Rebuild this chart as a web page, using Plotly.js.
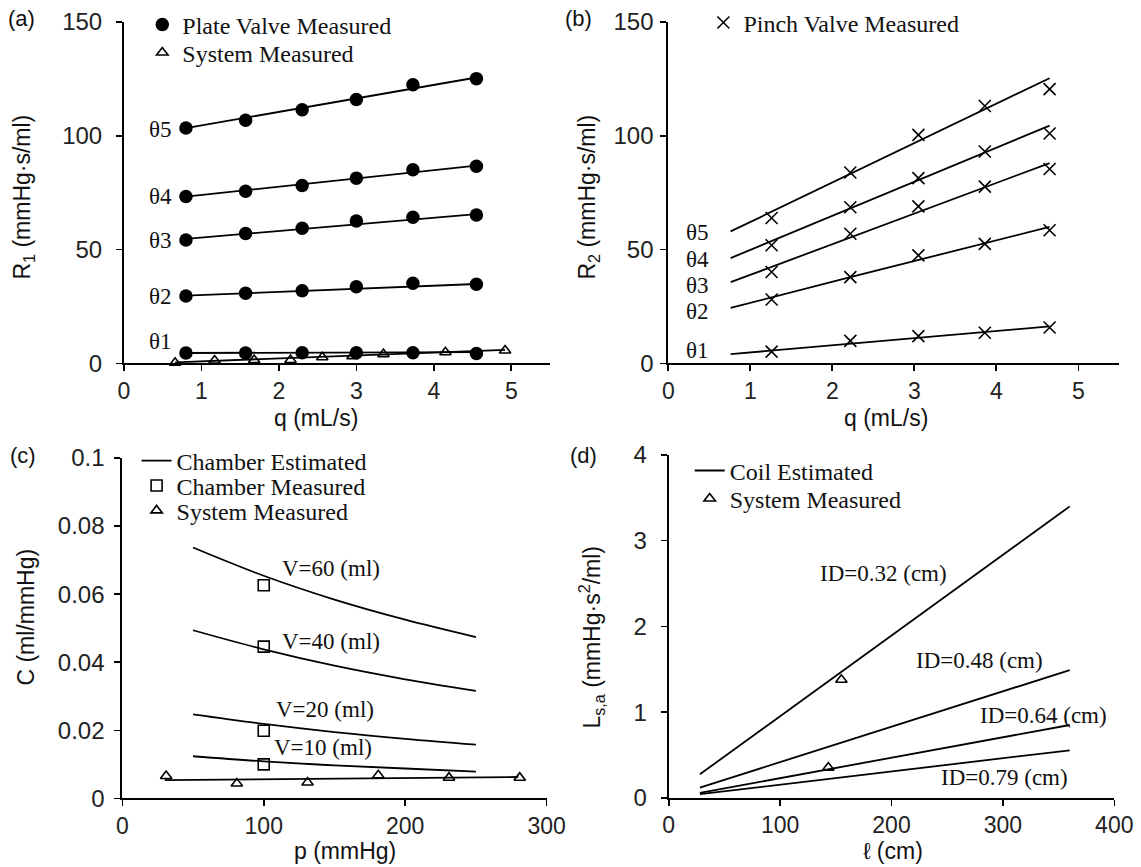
<!DOCTYPE html>
<html>
<head>
<meta charset="utf-8">
<script src="https://cdn.plot.ly/plotly-3.0.1.min.js"></script>
<style>html,body{margin:0;padding:0;background:#fff;}#chart{width:1141px;height:867px;}</style>
</head>
<body>
<div id="chart"></div>
<script>
// ---------- Panel (a): plate valve R1 vs q ----------
const qA = [0.8, 1.57, 2.3, 3.0, 3.73, 4.55];
const r1Theta1 = [4.6, 4.6, 4.7, 4.7, 4.7, 4.4];
const r1Theta2 = [29.6, 30.8, 31.9, 33.7, 35.2, 34.8];
const r1Theta3 = [54.2, 57.1, 59.4, 62.6, 64.2, 65.2];
const r1Theta4 = [73.3, 75.6, 78.2, 81.4, 85.1, 86.6];
const r1Theta5 = [103.4, 106.8, 111.4, 115.9, 122.4, 125.1];
const qAFit = [0.8, 4.55];
const r1Fit1 = [4.6, 5.0];
const r1Fit2 = [29.8, 34.9];
const r1Fit3 = [54.7, 65.6];
const r1Fit4 = [73.3, 86.9];
const r1Fit5 = [103.4, 125.6];
const qSysA = [0.66, 1.17, 1.68, 2.15, 2.56, 2.95, 3.35, 4.15, 4.92];
const r1Sys = [0.3, 1.3, 1.5, 1.5, 2.7, 3.2, 4.1, 4.9, 5.7];
const qSysFit = [0.66, 4.92];
const r1SysFit = [0.5, 6.0];
const thetaLabels = ['θ1', 'θ2', 'θ3', 'θ4', 'θ5'];
const thetaLabelYA = [9.6, 29.4, 54.1, 73.3, 102.8];

// ---------- Panel (b): pinch valve R2 vs q ----------
const qB = [1.26, 2.22, 3.05, 3.86, 4.65];
const r2Theta1 = [5.2, 9.9, 12.0, 13.5, 15.8];
const r2Theta2 = [28.1, 37.9, 47.5, 52.5, 58.5];
const r2Theta3 = [40.2, 57.0, 69.0, 77.7, 85.4];
const r2Theta4 = [51.9, 68.6, 81.4, 93.1, 101.0];
const r2Theta5 = [63.9, 83.9, 100.4, 113.1, 120.5];
const qBFit = [0.76, 4.65];
const qBFit2 = [0.76, 2.22, 4.65];
const r2Fit1 = [4.1, 16.3];
const r2Fit2 = [24.4, 37.9, 60.0];
const r2Fit3 = [35.7, 88.0];
const r2Fit4 = [46.3, 104.5];
const r2Fit5 = [58.0, 125.3];
const thetaLabelYB = [5.5, 23.0, 34.4, 45.8, 57.6];

// ---------- Panel (c): compliance C vs p ----------
const pEst = [50, 100, 150, 200, 250];
const cV60 = [0.0737, 0.0654, 0.0584, 0.0525, 0.0474];
const cV40 = [0.0494, 0.0438, 0.0390, 0.0350, 0.0316];
const cV20 = [0.0247, 0.0219, 0.0195, 0.0175, 0.0158];
const cV10 = [0.0124, 0.0109, 0.0097, 0.0088, 0.0079];
const pChamber = [100, 100, 100, 100];
const cChamber = [0.0626, 0.0446, 0.0199, 0.0100];
const pSys = [31, 81, 131, 181, 231, 281];
const cSys = [0.0066, 0.0044, 0.0047, 0.0068, 0.0061, 0.0061];
const pSysFit = [30, 280];
const cSysFit = [0.0054, 0.0063];
const volLabels = ['V=60 (ml)', 'V=40 (ml)', 'V=20 (ml)', 'V=10 (ml)'];
const volLabelX = [147.7, 147.7, 143.4, 142.1];
const volLabelY = [0.0674, 0.0462, 0.0260, 0.0149];

// ---------- Panel (d): inertance L vs length ----------
const lenEst = [28, 360];
const lID032 = [0.275, 3.40];
const lID048 = [0.12, 1.49];
const lID064 = [0.058, 0.85];
const lID079 = [0.043, 0.555];
const lenSys = [155, 143.3];
const lSys = [1.377, 0.353];
const idLabels = ['ID=0.32 (cm)', 'ID=0.48 (cm)', 'ID=0.64 (cm)', 'ID=0.79 (cm)'];
const idLabelX = [193.2, 278.8, 336.5, 301.6];
const idLabelY = [2.62, 1.60, 0.96, 0.233];

// ---------- styling ----------
const W = 1141, H = 867;
const SERIF = 'Liberation Serif, Times New Roman, serif';
const SANS = 'Liberation Sans, Arial, sans-serif';
const BLACK = '#000';
const LW = 1.8;
const px = v => v / W;
const py = v => 1 - v / H;

function fitLine(x, y, xa, ya, extra) {
  return Object.assign({x: x, y: y, xaxis: xa, yaxis: ya, type: 'scatter', mode: 'lines',
    line: {color: BLACK, width: LW}, showlegend: false, hoverinfo: 'skip'}, extra || {});
}
function markers(x, y, xa, ya, sym, size, extra) {
  const filled = sym.indexOf('open') < 0;
  return Object.assign({x: x, y: y, xaxis: xa, yaxis: ya, type: 'scatter', mode: 'markers', cliponaxis: false,
    marker: {symbol: sym, size: size, color: BLACK, line: {color: BLACK, width: filled ? 0 : 1.6}},
    showlegend: false}, extra || {});
}

const traces = [];
// (a)
[r1Fit1, r1Fit2, r1Fit3, r1Fit4, r1Fit5].forEach(f => traces.push(fitLine(qAFit, f, 'x', 'y')));
traces.push(fitLine(qSysFit, r1SysFit, 'x', 'y'));
[r1Theta1, r1Theta2, r1Theta3, r1Theta4, r1Theta5].forEach((v, i) =>
  traces.push(markers(qA, v, 'x', 'y', 'circle', 13.5,
    {name: 'Plate Valve Measured', legendgroup: 'plate', showlegend: i === 0, legend: 'legend'})));
traces.push(markers(qSysA, r1Sys, 'x', 'y', 'triangle-up-open', 10,
  {name: 'System Measured', showlegend: true, legend: 'legend2'}));
// (b)
traces.push(fitLine(qBFit, r2Fit1, 'x2', 'y2'));
traces.push(fitLine(qBFit2, r2Fit2, 'x2', 'y2'));
[r2Fit3, r2Fit4, r2Fit5].forEach(f => traces.push(fitLine(qBFit, f, 'x2', 'y2')));
[r2Theta1, r2Theta2, r2Theta3, r2Theta4, r2Theta5].forEach((v, i) =>
  traces.push(markers(qB, v, 'x2', 'y2', 'x-thin-open', 12,
    {name: 'Pinch Valve Measured', legendgroup: 'pinch', showlegend: i === 0, legend: 'legend3'})));
// (c)
[cV60, cV40, cV20, cV10].forEach((v, i) =>
  traces.push(fitLine(pEst, v, 'x3', 'y3',
    {line: {color: BLACK, width: LW, shape: 'spline'}, name: 'Chamber Estimated', legendgroup: 'chest',
     showlegend: i === 0, legend: 'legend4'})));
traces.push(fitLine(pSysFit, cSysFit, 'x3', 'y3'));
traces.push(markers(pChamber, cChamber, 'x3', 'y3', 'square-open', 11,
  {name: 'Chamber Measured', showlegend: true, legend: 'legend5'}));
traces.push(markers(pSys, cSys, 'x3', 'y3', 'triangle-up-open', 10,
  {name: 'System Measured', showlegend: true, legend: 'legend6'}));
// (d)
[lID032, lID048, lID064, lID079].forEach((v, i) =>
  traces.push(fitLine(lenEst, v, 'x4', 'y4',
    {name: 'Coil Estimated', legendgroup: 'coil', showlegend: i === 0, legend: 'legend7'})));
traces.push(markers(lenSys, lSys, 'x4', 'y4', 'triangle-up-open', 10,
  {name: 'System Measured', showlegend: true, legend: 'legend8'}));

function axis(domain, range, dtick, anchor, standoff, size, extra) {
  return Object.assign({domain: domain, range: range, dtick: dtick, tick0: 0, anchor: anchor,
    showgrid: false, zeroline: false, showline: true, linecolor: BLACK, linewidth: 2,
    ticks: 'outside', ticklen: 6, tickwidth: 1.6, tickcolor: BLACK, ticklabelstandoff: standoff,
    tickfont: {family: SANS, size: size, color: '#222'}, fixedrange: true}, extra || {});
}

const yTop = [py(362.3), py(20)];
const yBot = [py(798.3), py(457)];
const yBotD = [py(797.7), py(454)];

function leg(xPx, yPx) {
  return {x: px(xPx), y: py(yPx), xanchor: 'left', yanchor: 'middle', bgcolor: 'rgba(0,0,0,0)',
    borderwidth: 0, font: {family: SERIF, size: 24, color: '#111'}};
}

const annotations = [];
function addText(text, x, y, xref, yref, size, family, extra) {
  annotations.push(Object.assign({text: text, x: x, y: y, xref: xref, yref: yref, showarrow: false,
    xanchor: 'center', yanchor: 'middle', font: {family: family, size: size, color: '#111'}}, extra || {}));
}
thetaLabels.forEach((t, i) => addText(t, 0.47, thetaLabelYA[i], 'x', 'y', 23, SERIF));
thetaLabels.forEach((t, i) => addText(t, 0.35, thetaLabelYB[i], 'x2', 'y2', 23, SERIF));
volLabels.forEach((t, i) => addText(t, volLabelX[i], volLabelY[i], 'x3', 'y3', 23, SERIF));
idLabels.forEach((t, i) => addText(t, idLabelX[i], idLabelY[i], 'x4', 'y4', 23, SERIF));
// panel tags
addText('(a)', px(21.5), py(17), 'paper', 'paper', 22, SANS);
addText('(b)', px(578), py(17), 'paper', 'paper', 22, SANS);
addText('(c)', px(23), py(455), 'paper', 'paper', 22, SANS);
addText('(d)', px(583), py(455), 'paper', 'paper', 22, SANS);
// axis titles
addText('q (mL/s)', px(316), py(417), 'paper', 'paper', 23, SANS);
addText('q (mL/s)', px(886), py(417), 'paper', 'paper', 23, SANS);
addText('p (mmHg)', px(345), py(851), 'paper', 'paper', 23, SANS);
addText('ℓ (cm)', px(893), py(851), 'paper', 'paper', 23, SANS);
addText('R<sub>1</sub> (mmHg·s/ml)', px(24), py(196), 'paper', 'paper', 23, SANS, {textangle: -90});
addText('R<sub>2</sub> (mmHg·s/ml)', px(589), py(196), 'paper', 'paper', 23, SANS, {textangle: -90});
addText('C (ml/mmHg)', px(26), py(617), 'paper', 'paper', 23, SANS, {textangle: -90});
addText('L<sub>s,a</sub> (mmHg·s<sup>2</sup>/ml)', px(591), py(637), 'paper', 'paper', 23, SANS, {textangle: -90});

const layout = {
  width: W, height: H,
  margin: {l: 0, r: 0, t: 0, b: 0},
  paper_bgcolor: '#fff', plot_bgcolor: 'rgba(0,0,0,0)',
  font: {family: SANS, color: '#111'},
  xaxis: axis([px(124), px(550)], [0, 5.5], 1, 'y', 0, 23),
  yaxis: axis(yTop, [0, 150], 50, 'x', 9, 24),
  xaxis2: axis([px(668.3), px(1119.3)], [0, 5.5], 1, 'y2', 0, 23),
  yaxis2: axis(yTop, [0, 150], 50, 'x2', 2, 24),
  xaxis3: axis([px(122.3), px(546.6)], [0, 300], 100, 'y3', 0, 23),
  yaxis3: axis(yBot, [0, 0.1], 0.02, 'x3', 5, 24),
  xaxis4: axis([px(668.7), px(1114.3)], [0, 400], 100, 'y4', 0, 23),
  yaxis4: axis(yBotD, [0, 4], 1, 'x4', 9, 24),
  legend: leg(142.3, 23),
  legend2: leg(142.3, 51),
  legend3: leg(703.4, 21),
  legend4: leg(136.6, 460),
  legend5: leg(136.6, 485),
  legend6: leg(136.6, 510),
  legend7: leg(689.7, 470),
  legend8: leg(689.7, 498),
  annotations: annotations,
  showlegend: true
};

Plotly.newPlot('chart', traces, layout, {staticPlot: true, displayModeBar: false});
</script>
</body>
</html>
